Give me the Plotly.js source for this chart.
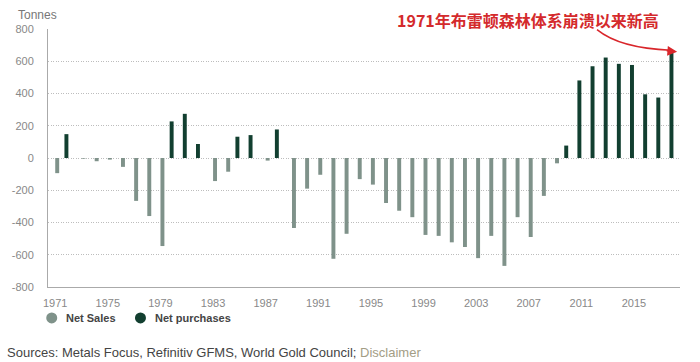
<!DOCTYPE html>
<html>
<head>
<meta charset="utf-8">
<script src="https://cdn.plot.ly/plotly-3.0.1.min.js"></script>
<style>
  html, body { margin: 0; padding: 0; background: #fff; }
  #chart { width: 700px; height: 362px; }
</style>
</head>
<body>
<div id="chart"></div>
<script>
// Data (tonnes)
const salesYears = [1971, 1973, 1974, 1975, 1976, 1977, 1978, 1979, 1983, 1984, 1987, 1989, 1990, 1991, 1992, 1993,
  1994, 1995, 1996, 1997, 1998, 1999, 2000, 2001, 2002, 2003, 2004, 2005, 2006, 2007, 2008, 2009];
const salesValues = [-94, -4, -20, -10, -55, -266, -360, -546, -143, -85, -16, -434, -190, -104, -625, -470,
  -131, -165, -279, -327, -367, -477, -483, -523, -552, -621, -483, -669, -367, -490, -235, -33];
const purchaseYears = [1972, 1980, 1981, 1982, 1985, 1986, 1988, 2010, 2011, 2012, 2013, 2014, 2015, 2016, 2017, 2018];
const purchaseValues = [148, 227, 274, 87, 132, 142, 177, 77, 481, 569, 623, 584, 577, 395, 375, 651];
const xTickVals = [1971, 1975, 1979, 1983, 1987, 1991, 1995, 1999, 2003, 2007, 2011, 2015];
const yTickVals = [-800, -600, -400, -200, 0, 200, 400, 600, 800];
const seriesNames = ['Net Sales', 'Net purchases'];

const salesColor = '#7f928a';
const purchColor = '#123f30';

const traces = [
  { type: 'bar', x: salesYears, y: salesValues, width: 0.3, offset: 0, name: seriesNames[0],
    marker: { color: salesColor }, showlegend: false, hoverinfo: 'x+y' },
  { type: 'bar', x: purchaseYears, y: purchaseValues, width: 0.3, offset: -0.3, name: seriesNames[1],
    marker: { color: purchColor }, showlegend: false, hoverinfo: 'x+y' }
];

const legendFont = { size: 11, color: '#444', family: 'Liberation Sans, Arial, sans-serif', weight: 'bold' };
const legendDot = (xc, c) => ({
  type: 'circle', xref: 'paper', yref: 'paper',
  xsizemode: 'pixel', ysizemode: 'pixel',
  xanchor: xc, yanchor: -0.12, x0: -5.5, x1: 5.5, y0: -5.5, y1: 5.5,
  fillcolor: c, line: { width: 0 }
});

const layout = {
  width: 700, height: 362,
  margin: { l: 48, r: 20, t: 29, b: 75 },
  paper_bgcolor: '#fff', plot_bgcolor: '#fff',
  barmode: 'overlay',
  showlegend: false,
  font: { family: 'Liberation Sans, Arial, sans-serif', color: '#888', size: 11 },
  xaxis: {
    range: [1970.45, 2018.5],
    tickvals: xTickVals, ticktext: xTickVals.map(String),
    showgrid: false, zeroline: false,
    showline: true, linecolor: '#aaa', linewidth: 1,
    ticks: '', ticklen: 0, ticklabelstandoff: 6,
    tickfont: { size: 11, color: '#888' },
    fixedrange: true
  },
  yaxis: {
    range: [-800, 800],
    tickvals: yTickVals, ticktext: yTickVals.map(String),
    showgrid: true, gridcolor: '#bdbdbd', griddash: '1px,1.5px', gridwidth: 1,
    zeroline: false,
    showline: true, linecolor: '#aaa', linewidth: 1,
    ticks: '', ticklen: 0, ticklabelstandoff: 11,
    tickfont: { size: 11, color: '#888' },
    fixedrange: true
  },
  shapes: [
    { type: 'path', xref: 'paper', yref: 'paper',
      path: 'M 0.8687 0.9973 Q 0.905 0.925 0.985 0.918',
      line: { color: '#d9262b', width: 1.5 } },
    legendDot(0.0059, salesColor),
    legendDot(0.1463, purchColor)
  ],
  annotations: [
    { xref: 'paper', yref: 'paper', x: -0.051, y: 1.053, xanchor: 'left', yanchor: 'middle',
      text: 'Tonnes', showarrow: false, font: { size: 12, color: '#777' } },
    { xref: 'paper', yref: 'paper', x: 0.549, y: 1.035, xanchor: 'left', yanchor: 'middle',
      text: '<b>1971年布雷顿森林体系崩溃以来新高</b>', showarrow: false,
      font: { size: 16, color: '#d42a2c', family: 'Noto Sans CJK SC, sans-serif' } },
    { xref: 'paper', yref: 'paper', x: 0.9955, y: 0.912, text: '', showarrow: true,
      axref: 'pixel', ayref: 'pixel', ax: -12, ay: -1,
      arrowhead: 2, arrowsize: 1.3, arrowwidth: 1.5, arrowcolor: '#d9262b', standoff: 0 },
    { xref: 'paper', yref: 'paper', x: 0.0253, y: -0.12, xanchor: 'left', yanchor: 'middle',
      text: seriesNames[0], showarrow: false, font: legendFont },
    { xref: 'paper', yref: 'paper', x: 0.166, y: -0.12, xanchor: 'left', yanchor: 'middle',
      text: seriesNames[1], showarrow: false, font: legendFont },
    { xref: 'paper', yref: 'paper', x: -0.068, y: -0.255, xanchor: 'left', yanchor: 'middle',
      text: 'Sources: Metals Focus, Refinitiv GFMS, World Gold Council; <span style="color:#a39d85">Disclaimer</span>',
      showarrow: false, font: { size: 13, color: '#444' } }
  ]
};

Plotly.newPlot('chart', traces, layout, { displayModeBar: false, staticPlot: true });
</script>
</body>
</html>
